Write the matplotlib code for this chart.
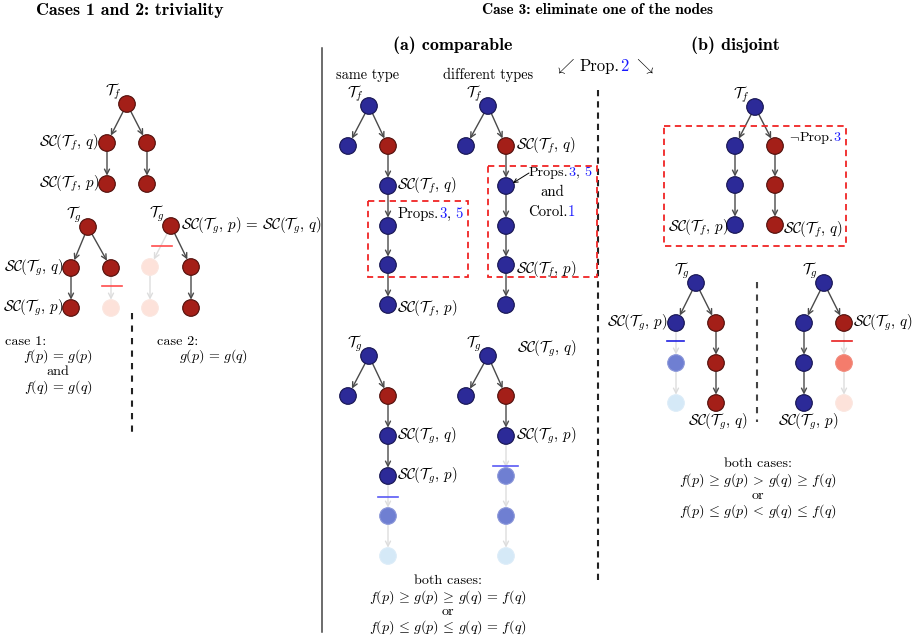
import matplotlib.pyplot as plt
from matplotlib.patches import Circle, Rectangle

plt.rcParams['mathtext.fontset'] = 'cm'
plt.rcParams['font.family'] = 'cmr10'
plt.rcParams['axes.unicode_minus'] = False

# node colours: B blue, R red, b1/b2 faded blue, r1/r2 faded red
FILL = {'B': '#2c2a98', 'R': '#a41f18', 'b1': '#6f7fd2', 'b2': '#d5e9f7',
        'r1': '#f47c6c', 'r2': '#fde2da'}
EDGE = {'B': '#15134f', 'R': '#4f0e0a', 'b1': '#8a96d8', 'b2': '#dcecf8',
        'r1': '#f08a7c', 'r2': '#fbe6df'}

# trees: nodes (x, y, colour) and edges (from, to, faded)
tf_left = [(127, 104, 'R'), (107, 143, 'R'), (147, 143, 'R'), (107, 184, 'R'), (147, 184, 'R')]
tf_left_e = [(0, 1, 0), (0, 2, 0), (1, 3, 0), (2, 4, 0)]
tg_case1 = [(88, 227, 'R'), (71, 268, 'R'), (111, 268, 'R'), (71, 308, 'R'), (111, 308, 'r2')]
tg_case1_e = [(0, 1, 0), (0, 2, 0), (1, 3, 0), (2, 4, 1)]
tg_case2 = [(171, 226, 'R'), (150, 267, 'r2'), (191, 267, 'R'), (150, 308, 'r2'), (191, 308, 'R')]
tg_case2_e = [(0, 1, 1), (0, 2, 0), (1, 3, 1), (2, 4, 0)]

tf_same = [(369, 106, 'B'), (348, 146, 'B'), (388, 146, 'R'), (388, 186, 'B'),
           (388, 226, 'B'), (388, 265, 'B'), (388, 305, 'B')]
tf_diff = [(488, 106, 'B'), (466, 146, 'B'), (506, 146, 'R'), (506, 186, 'B'),
           (506, 226, 'B'), (506, 265, 'B'), (506, 305, 'B')]
chain_e = [(0, 1, 0), (0, 2, 0), (2, 3, 0), (3, 4, 0), (4, 5, 0), (5, 6, 0)]
tg_same = [(369, 356, 'B'), (348, 396, 'B'), (388, 396, 'R'), (388, 436, 'B'),
           (388, 476, 'B'), (388, 516, 'b1'), (388, 556, 'b2')]
tg_same_e = [(0, 1, 0), (0, 2, 0), (2, 3, 0), (3, 4, 0), (4, 5, 1), (5, 6, 1)]
tg_diff = [(488, 356, 'B'), (466, 396, 'B'), (506, 396, 'R'), (506, 436, 'B'),
           (506, 476, 'b1'), (506, 516, 'b1'), (506, 556, 'b2')]
tg_diff_e = [(0, 1, 0), (0, 2, 0), (2, 3, 0), (3, 4, 1), (4, 5, 1), (5, 6, 1)]

tf_disj = [(755, 107, 'B'), (735, 146, 'B'), (775, 146, 'R'), (735, 185, 'B'),
           (775, 185, 'R'), (735, 225, 'B'), (775, 225, 'R')]
tf_disj_e = [(0, 1, 0), (0, 2, 0), (1, 3, 0), (2, 4, 0), (3, 5, 0), (4, 6, 0)]
tg_disj1 = [(696, 283, 'B'), (676, 323, 'B'), (716, 323, 'R'), (676, 363, 'b1'),
            (716, 363, 'R'), (676, 403, 'b2'), (716, 403, 'R')]
tg_disj1_e = [(0, 1, 0), (0, 2, 0), (1, 3, 1), (2, 4, 0), (3, 5, 1), (4, 6, 0)]
tg_disj2 = [(824, 283, 'B'), (804, 323, 'B'), (844, 323, 'R'), (804, 363, 'B'),
            (844, 363, 'r1'), (804, 403, 'B'), (844, 403, 'r2')]
tg_disj2_e = [(0, 1, 0), (0, 2, 0), (1, 3, 0), (2, 4, 1), (3, 5, 0), (4, 6, 1)]

trees = [(tf_left, tf_left_e, r'$\mathcal{T}_f$'), (tg_case1, tg_case1_e, r'$\mathcal{T}_g$'),
         (tg_case2, tg_case2_e, r'$\mathcal{T}_g$'), (tf_same, chain_e, r'$\mathcal{T}_f$'),
         (tf_diff, chain_e, r'$\mathcal{T}_f$'), (tg_same, tg_same_e, r'$\mathcal{T}_g$'),
         (tg_diff, tg_diff_e, r'$\mathcal{T}_g$'), (tf_disj, tf_disj_e, r'$\mathcal{T}_f$'),
         (tg_disj1, tg_disj1_e, r'$\mathcal{T}_g$'), (tg_disj2, tg_disj2_e, r'$\mathcal{T}_g$')]

# cut marks (y, x0, x1, colour)
cuts = [(286, 102, 122, '#ff4d4d'), (246, 152, 172, '#ff4d4d'), (497, 378, 398, '#5a5af5'),
        (466, 493, 518, '#5a5af5'), (341, 667, 684, '#2020e0'), (341, 832, 852, '#e82020')]

SCfq = r'$\mathcal{SC}(\mathcal{T}_f,\,q)$'
SCfp = r'$\mathcal{SC}(\mathcal{T}_f,\,p)$'
SCgq = r'$\mathcal{SC}(\mathcal{T}_g,\,q)$'
SCgp = r'$\mathcal{SC}(\mathcal{T}_g,\,p)$'
# node labels (x, y, text, ha)
labels = [(99, 143, SCfq, 'right'), (99, 184, SCfp, 'right'),
          (63, 268, SCgq, 'right'), (63, 308, SCgp, 'right'),
          (181, 226, SCgp[:-1] + r'\,=\,\mathcal{SC}(\mathcal{T}_g,\,q)$', 'left'),
          (397, 186, SCfq, 'left'), (397, 309, SCfp, 'left'),
          (516, 146, SCfq, 'left'), (516, 270, SCfp, 'left'),
          (397, 436, SCgq, 'left'), (397, 476, SCgp, 'left'),
          (517, 349, SCgq, 'left'), (516, 436, SCgp, 'left'),
          (728, 228, SCfp, 'right'), (783, 230, SCfq, 'left'),
          (667, 323, SCgp, 'right'), (718, 422, SCgq, 'center'),
          (853, 323, SCgq, 'left'), (808, 422, SCgp, 'center')]

# formulas under the panels (x, y, text, is_math, ha)
case_lines = [(5, 342, 'case 1:', 0, 'left'), (58, 356, r'$f(p)\,=\,g(p)$', 1, 'center'),
              (58, 372, 'and', 0, 'center'), (58, 387, r'$f(q)\,=\,g(q)$', 1, 'center'),
              (157, 342, 'case 2:', 0, 'left'), (214, 356, r'$g(p)\,=\,g(q)$', 1, 'center'),
              (448, 581, 'both cases:', 0, 'center'),
              (448, 597, r'$f(p)\,\geq\,g(p)\,\geq\,g(q)\,=\,f(q)$', 1, 'center'),
              (448, 612, 'or', 0, 'center'),
              (448, 627, r'$f(p)\,\leq\,g(p)\,\leq\,g(q)\,=\,f(q)$', 1, 'center'),
              (758, 464, 'both cases:', 0, 'center'),
              (758, 480, r'$f(p)\,\geq\,g(p)\,>\,g(q)\,\geq\,f(q)$', 1, 'center'),
              (758, 496, 'or', 0, 'center'),
              (758, 511, r'$f(p)\,\leq\,g(p)\,<\,g(q)\,\leq\,f(q)$', 1, 'center')]

BLUE = '#1a1aff'
TXT = 10.6
MATH = 10.8

W, H = 919, 640
fig = plt.figure(figsize=(W / 100, H / 100), dpi=100)
ax = fig.add_axes([0, 0, 1, 1])
ax.set_xlim(0, W)
ax.set_ylim(H, 0)
ax.axis('off')
R = 8.3


def rich(x, y, parts, size=TXT, ha='left'):
    rend = fig.canvas.get_renderer()
    cx, objs = x, []
    for s, c in parts:
        t = ax.text(cx, y, s, color=c, fontsize=size, ha='left', va='baseline')
        cx += t.get_window_extent(rend).width
        objs.append(t)
    if ha == 'center':
        shift = (cx - x) / 2
        for t in objs:
            px, py = t.get_position()
            t.set_position((px - shift, py))


for nodes, edges, name in trees:
    for i, j, faded in edges:
        (x0, y0, _), (x1, y1, _) = nodes[i], nodes[j]
        ax.annotate('', xy=(x1, y1), xytext=(x0, y0),
                    arrowprops=dict(arrowstyle='->', color='#dddddd' if faded else '#4a4a4a',
                                    lw=1.0, shrinkA=6, shrinkB=6, mutation_scale=9))
    for x, y, c in nodes:
        ax.add_patch(Circle((x, y), R, facecolor=FILL[c], edgecolor=EDGE[c], lw=0.8, zorder=3))
    rx, ry, _ = nodes[0]
    ax.text(rx - 14, ry - 12, name, fontsize=11, ha='center', va='center')

for y, x0, x1, c in cuts:
    ax.plot([x0, x1], [y, y], color=c, lw=1.2, zorder=4)

for x, y, s, ha in labels:
    ax.text(x, y, s, fontsize=MATH, ha=ha, va='center')

# titles
ax.text(130, 10, 'Cases 1 and 2: triviality', family='cmb10', fontsize=12.8, ha='center', va='center')
ax.text(597, 10, 'Case 3: eliminate one of the nodes', family='cmb10', fontsize=11.1, ha='center', va='center')
ax.text(453, 45, '(a) comparable', family='cmb10', fontsize=13, ha='center', va='center')
ax.text(735, 45, '(b) disjoint', family='cmb10', fontsize=13, ha='center', va='center')
ax.text(367, 75, 'same type', fontsize=10.3, ha='center', va='center')
ax.text(488, 75, 'different types', fontsize=10.3, ha='center', va='center')
rich(605, 71, [(r'$\swarrow$ ', 'black'), ('Prop.', 'black'), ('2', BLUE), (r' $\searrow$', 'black')],
     size=12, ha='center')

# dividers
ax.plot([322, 322], [48, 632], color='#444444', lw=1.1)
ax.plot([132, 132], [313, 432], color='#222222', lw=1.5, dashes=(3, 3))
ax.plot([598, 598], [90, 582], color='#222222', lw=1.5, dashes=(3, 2.4))
ax.plot([757, 757], [282, 422], color='#444444', lw=1.5, dashes=(3, 3))

# red dashed boxes
for x0, y0, x1, y1 in [(368, 201, 468, 277), (488, 166, 597, 277), (664, 126, 846, 246)]:
    ax.add_patch(Rectangle((x0, y0), x1 - x0, y1 - y0, fill=False, edgecolor='#f02424',
                           lw=1.3, linestyle=(0, (3.5, 2.5)), zorder=5))

rich(398, 218, [('Props.', 'black'), ('3', BLUE), (', ', 'black'), ('5', BLUE)])
rich(529, 176, [('Props.', 'black'), ('3', BLUE), (', ', 'black'), ('5', BLUE)], size=10.2)
ax.annotate('', xy=(513, 183), xytext=(529, 173),
            arrowprops=dict(arrowstyle='->', color='black', lw=0.7, shrinkA=0, shrinkB=0, mutation_scale=7))
ax.text(552, 192, 'and', fontsize=TXT, ha='center', va='center')
rich(552, 216, [('Corol.', 'black'), ('1', BLUE)], ha='center')
rich(789, 141, [(r'$\neg$', 'black'), ('Prop.', 'black'), ('3', BLUE)], size=10.2)

for x, y, s, m, ha in case_lines:
    ax.text(x, y, s, fontsize=10.1 if m else 10.2, ha=ha, va='center')

fig.savefig('out.png', dpi=100)
